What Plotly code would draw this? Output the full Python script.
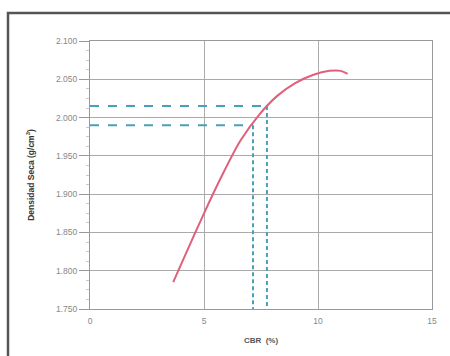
import plotly.graph_objects as go

# Curve data (CBR %, dry density g/cm3)
cbr = [3.65, 4.2, 5.0, 5.8, 6.6, 7.4, 8.2, 9.0, 9.8, 10.5, 11.0, 11.3]
density = [1.785, 1.822, 1.875, 1.925, 1.970, 2.003, 2.028, 2.045, 2.056, 2.061, 2.061, 2.057]

# Reference lines
ref_cbr = [7.15, 7.76]
ref_density = [1.990, 2.015]

y_ticks = [1.75, 1.80, 1.85, 1.90, 1.95, 2.00, 2.05, 2.10]
y_labels = ["1.750", "1.800", "1.850", "1.900", "1.950", "2.000", "2.050", "2.100"]
x_ticks = [0, 5, 10, 15]

fig = go.Figure()

dash_color = "#4aa0b4"
for xc, yd in zip(ref_cbr, ref_density):
    fig.add_trace(go.Scatter(x=[0, xc], y=[yd, yd], mode="lines",
                             line=dict(color=dash_color, width=2, dash="dash"),
                             showlegend=False, hoverinfo="skip"))
    fig.add_trace(go.Scatter(x=[xc, xc], y=[yd, 1.75], mode="lines",
                             line=dict(color=dash_color, width=2, dash="4px,3px"),
                             showlegend=False, hoverinfo="skip"))

fig.add_trace(go.Scatter(x=cbr, y=density, mode="lines",
                         line=dict(color="#e0607a", width=2, shape="spline", smoothing=0.8),
                         showlegend=False))

fig.add_shape(type="rect", xref="paper", yref="paper",
              x0=-82/342, x1=1.2, y0=-0.5, y1=1 + 28/268,
              line=dict(color="#555555", width=2.5), fillcolor="rgba(0,0,0,0)",
              layer="below")

fig.update_layout(
    width=450, height=356,
    margin=dict(l=90, r=18, t=41, b=47),
    paper_bgcolor="white", plot_bgcolor="white",
    font=dict(family="Liberation Sans, Arial", size=8.5, color="#888888"),
    xaxis=dict(range=[0, 15], tickvals=x_ticks, showgrid=True, gridcolor="#aaaaaa",
               gridwidth=1, zeroline=False, showline=True, linecolor="#999999",
               mirror=True, ticks="outside", ticklen=4, tickcolor="rgba(0,0,0,0)",
               title=dict(text="<b>CBR  (%)</b>", standoff=12,
                          font=dict(size=8, color="#555555"))),
    yaxis=dict(range=[1.75, 2.10], tickvals=y_ticks, ticktext=y_labels,
               showgrid=True, gridcolor="#aaaaaa", gridwidth=1, zeroline=False,
               showline=True, linecolor="#999999", mirror=True,
               ticks="outside", ticklen=10, tickcolor="#999999",
               minor=dict(ticks="outside", ticklen=3, tickcolor="#cccccc", dtick=0.0125),
               title=dict(text="<b>Densidad Seca (g/cm<sup>3</sup>)</b>", standoff=20,
                          font=dict(size=8.5, color="#333333"))),
)

fig.write_html("out.html")
